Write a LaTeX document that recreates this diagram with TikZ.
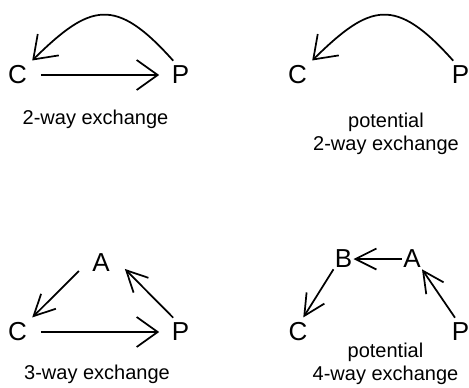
\documentclass[tikz,border=0pt]{standalone}
\usepackage{fontspec}
\setmainfont{Liberation Sans}
\usetikzlibrary{arrows.meta}

\tikzset{every picture/.style={line width=1.3pt}}
\tikzset{
  letter/.style={font=\fontsize{19.5}{20}\selectfont, inner sep=0pt, outer sep=4pt},
  tight/.style={outer sep=1pt},
  caption/.style={font=\fontsize{15}{17.25}\selectfont, inner sep=0pt, anchor=base, align=center},
  wide/.style={-{Straight Barb[length=15.75pt,width=22.5pt]}},
  narrow/.style={-{Straight Barb[length=15.75pt,width=15.75pt]}},
  gap/.style={shorten <=6.5pt, shorten >=5.5pt}
}

\begin{document}
\begin{tikzpicture}[x=0.75pt,y=0.75pt,yscale=-1,xscale=1]
    \useasboundingbox (0,0) rectangle (469,387);

    % Text Node
    \draw (17.5,75) node [letter] (c1) {C};
    % Text Node
    \draw (180.5,75) node [letter] (p1) {P};
    % Text Node
    \draw (95.5,124.5) node [caption] (t1) {2-way exchange};
    %Straight Lines
    \draw [wide, gap] (c1) -- (p1);
    %Curve Lines
    \draw [wide] (p1.117) .. controls +(-58,-65) and +(58,-57) .. (c1.north east);

    % Text Node
    \draw (297.5,75) node [letter] (c2) {C};
    % Text Node
    \draw (460.5,75) node [letter] (p2) {P};
    % Text Node
    \draw (386,150.5) node [caption] (t2) {potential\\2-way exchange};
    %Curve Lines
    \draw [wide] (p2.117) .. controls +(-58,-65) and +(58,-57) .. (c2.north east);

    % Text Node
    \draw (17.5,332) node [letter] (c3) {C};
    % Text Node
    \draw (180.5,332) node [letter] (p3) {P};
    % Text Node
    \draw (101,263) node [letter] (a3) {A};
    % Text Node
    \draw (97,379) node [caption] (t3) {3-way exchange};
    %Straight Lines
    \draw [wide, gap] (c3) -- (p3);
    %Straight Lines
    \draw [narrow, shorten <=8.5pt] (a3.west) -- (c3.north east);
    %Straight Lines
    \draw [narrow, shorten >=10.5pt] (p3.117) -- (a3.16);

    % Text Node
    \draw (343.5,259) node [letter, tight] (b4) {B};
    % Text Node
    \draw (412,259) node [letter, tight] (a4) {A};
    % Text Node
    \draw (298,332) node [letter] (c4) {C};
    % Text Node
    \draw (460.5,332) node [letter] (p4) {P};
    % Text Node
    \draw (385.5,380) node [caption] (t4) {potential\\4-way exchange};
    %Straight Lines
    \draw [narrow] (a4) -- (b4);
    %Straight Lines
    \draw [narrow] (b4.south west) -- (c4.70);
    %Straight Lines
    \draw [narrow] (p4.111) -- (a4.south east);

\end{tikzpicture}
\end{document}
